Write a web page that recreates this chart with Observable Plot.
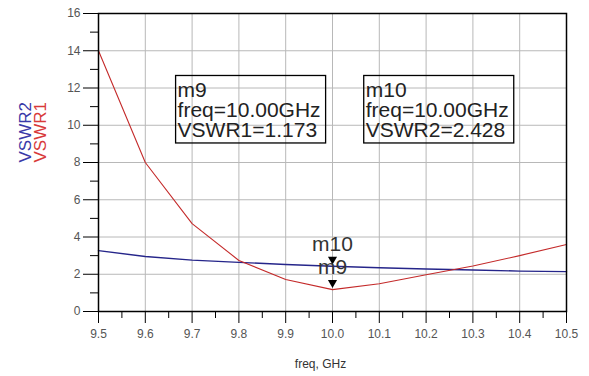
<!DOCTYPE html>
<html>
<head>
<meta charset="utf-8">
<script src="https://cdn.jsdelivr.net/npm/d3@7"></script>
<script src="https://cdn.jsdelivr.net/npm/@observablehq/plot@0.6"></script>
<style>
  html, body { margin: 0; padding: 0; background: white; }
</style>
</head>
<body>
<div id="chart"></div>
<script>
// ---- data ----
const freq  = [9.5, 9.6, 9.7, 9.8, 9.9, 10.0, 10.1, 10.2, 10.3, 10.4, 10.5];
const vswr1 = [14.0, 8.0, 4.72, 2.74, 1.72, 1.173, 1.49, 1.97, 2.44, 3.0, 3.6];
const vswr2 = [3.27, 2.95, 2.76, 2.64, 2.52, 2.428, 2.35, 2.28, 2.23, 2.17, 2.14];

const xTicks = [9.5, 9.6, 9.7, 9.8, 9.9, 10.0, 10.1, 10.2, 10.3, 10.4, 10.5];
const xMinor = [9.55, 9.65, 9.75, 9.85, 9.95, 10.05, 10.15, 10.25, 10.35, 10.45];
const yTicks = [0, 2, 4, 6, 8, 10, 12, 14, 16];
const yMinor = [1, 3, 5, 7, 9, 11, 13, 15];

const markerNames  = ["m9", "m10"];
const markerFreq   = [10.0, 10.0];
const markerSeries = ["VSWR1", "VSWR2"];
const markerValues = [1.173, 2.428];

const seriesNames = ["VSWR2", "VSWR1"];
const xLabel = "freq, GHz";

// ---- tables ----
const table = freq.map((f, i) => ({freq: f, vswr1: vswr1[i], vswr2: vswr2[i]}));
const markers = markerNames.map((n, i) => ({
  name: n, freq: markerFreq[i], series: markerSeries[i], value: markerValues[i],
  info: `${n}\nfreq=${markerFreq[i].toFixed(2)}GHz\n${markerSeries[i]}=${markerValues[i].toFixed(3)}`
}));

// box anchor placement (layout, data units)
const boxX = {m9: 9.669, m10: 10.071};
const boxY = 10.77;

const FONT = "'Liberation Sans', Arial, sans-serif";

const plot = Plot.plot({
  width: 589,
  height: 376,
  marginLeft: 98,
  marginRight: 23,
  marginTop: 13,
  marginBottom: 65,
  style: {fontFamily: FONT, background: "white", overflow: "visible"},
  x: {domain: [9.5, 10.5], label: null},
  y: {domain: [0, 16], label: null},
  marks: [
    Plot.gridX(xTicks, {stroke: "#b8b8b8", strokeOpacity: 1, strokeWidth: 1}),
    Plot.gridY(yTicks, {stroke: "#b8b8b8", strokeOpacity: 1, strokeWidth: 1}),
    Plot.line(table, {x: "freq", y: "vswr2", stroke: "#25258a", strokeWidth: 1.4}),
    Plot.line(table, {x: "freq", y: "vswr1", stroke: "#c42a2a", strokeWidth: 1.1}),
    Plot.frame({stroke: "black", strokeWidth: 1.5}),
    Plot.axisX(xTicks, {tickSize: 12, tickPadding: 6, tickFormat: d3.format(".1f"), fontSize: 12, label: null, color: "black"}),
    Plot.axisX(xMinor, {tickSize: 7, tickFormat: () => "", label: null, color: "black"}),
    Plot.axisY(yTicks, {tickSize: 15, tickPadding: 3, fontSize: 12, label: null, color: "black"}),
    Plot.axisY(yMinor, {tickSize: 8, tickFormat: () => "", label: null, color: "black"}),
    Plot.dot(markers, {x: "freq", y: "value", symbol: "triangle", rotate: 180, r: 3.4, fill: "black", stroke: null, dy: -7}),
    Plot.text(markers, {x: "freq", y: "value", text: "name", dy: -22, fontSize: 21, fill: "#333", lineAnchor: "middle"}),
    Plot.text(markers, {
      x: d => boxX[d.name], y: () => boxY, text: "info",
      textAnchor: "start", lineAnchor: "middle", lineHeight: 0.94,
      fontSize: 21, fill: "#222"
    }),
    Plot.text([seriesNames[0]], {text: d => d, frameAnchor: "left", rotate: -90, dx: -73, fill: "#3a3aa8", fontSize: 17, lineAnchor: "middle"}),
    Plot.text([seriesNames[1]], {text: d => d, frameAnchor: "left", rotate: -90, dx: -57.5, fill: "#d83a3a", fontSize: 17, lineAnchor: "middle"}),
    Plot.text([xLabel], {text: d => d, frameAnchor: "bottom", dy: 53, dx: -12, fill: "#333", fontSize: 12, lineAnchor: "middle"})
  ]
});

document.getElementById("chart").appendChild(plot);

// gray tick labels
plot.querySelectorAll('[aria-label="x-axis tick label"] text, [aria-label="y-axis tick label"] text')
  .forEach(t => t.setAttribute("fill", "#555"));

// boxes around marker readouts
const ns = "http://www.w3.org/2000/svg";
Array.from(plot.querySelectorAll("text"))
  .filter(t => t.querySelectorAll("tspan").length >= 3 && t.textContent.includes("freq="))
  .forEach(t => {
    const b = t.getBBox();
    const r = document.createElementNS(ns, "rect");
    const tr = t.getAttribute("transform") || "";
    r.setAttribute("x", b.x - 2);
    r.setAttribute("y", b.y - 3);
    r.setAttribute("width", b.width + 7);
    r.setAttribute("height", b.height + 5);
    r.setAttribute("fill", "none");
    r.setAttribute("stroke", "black");
    r.setAttribute("stroke-width", 1.3);
    if (tr) r.setAttribute("transform", tr);
    t.parentNode.insertBefore(r, t);
  });
</script>
</body>
</html>
